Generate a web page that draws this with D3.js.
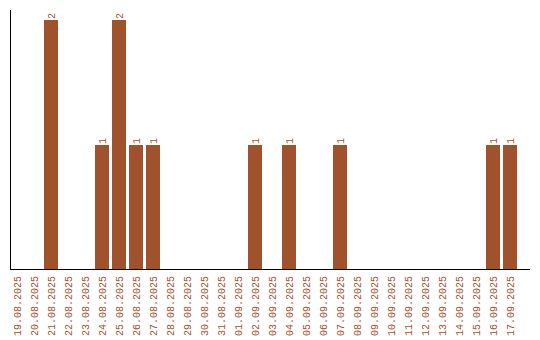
<!DOCTYPE html>
<html>
<head>
<meta charset="utf-8">
<script src="https://cdn.jsdelivr.net/npm/d3@7"></script>
<style>
  html, body { margin: 0; padding: 0; background: #fff; }
  svg { display: block; }
</style>
</head>
<body>
<div id="chart"></div>
<script>
(function () {
  "use strict";

  const dates = [
    "19.08.2025", "20.08.2025", "21.08.2025", "22.08.2025", "23.08.2025",
    "24.08.2025", "25.08.2025", "26.08.2025", "27.08.2025", "28.08.2025",
    "29.08.2025", "30.08.2025", "31.08.2025", "01.09.2025", "02.09.2025",
    "03.09.2025", "04.09.2025", "05.09.2025", "06.09.2025", "07.09.2025",
    "08.09.2025", "09.09.2025", "10.09.2025", "11.09.2025", "12.09.2025",
    "13.09.2025", "14.09.2025", "15.09.2025", "16.09.2025", "17.09.2025"
  ];
  const counts = [
    0, 0, 2, 0, 0,
    1, 2, 1, 1, 0,
    0, 0, 0, 0, 1,
    0, 1, 0, 0, 1,
    0, 0, 0, 0, 0,
    0, 0, 0, 1, 1
  ];

  const w = 540, h = 340;
  const COLOR = "#a0522d";
  const FONT = "'Liberation Mono', 'DejaVu Sans Mono', monospace";

  const data = dates.map((d, i) => ({ date: d, value: counts[i] }));

  const x = d3.scaleBand()
    .domain(dates)
    .range([10, 520])
    .paddingInner(3 / 17)
    .paddingOuter(3 / 34)
    .align(0);

  const y = d3.scaleLinear()
    .domain([0, 2.08])
    .range([270, 10]);

  const svg = d3.select("#chart")
    .append("svg")
    .attr("width", w)
    .attr("height", h);

  // bars
  svg.selectAll("rect.bar")
    .data(data.filter(d => d.value > 0))
    .enter()
    .append("rect")
    .attr("class", "bar")
    .attr("x", d => x(d.date))
    .attr("y", d => y(d.value))
    .attr("width", x.bandwidth())
    .attr("height", d => y(0) - y(d.value))
    .attr("fill", COLOR);

  // value labels above bars
  svg.selectAll("text.val")
    .data(data.filter(d => d.value > 0))
    .enter()
    .append("text")
    .attr("class", "val")
    .attr("transform", d => `translate(${x(d.date) + x.bandwidth() / 2},${y(d.value) - 1}) rotate(-90)`)
    .attr("dy", "0.35em")
    .attr("text-anchor", "start")
    .attr("fill", COLOR)
    .attr("font-family", FONT)
    .attr("font-size", "10px")
    .text(d => d.value);

  // axes lines
  svg.append("line")
    .attr("x1", 10.5).attr("x2", 10.5)
    .attr("y1", y.range()[1]).attr("y2", y(0))
    .attr("stroke", "#000").attr("stroke-width", 1);

  svg.append("line")
    .attr("x1", 10).attr("x2", 530)
    .attr("y1", y(0) - 0.5).attr("y2", y(0) - 0.5)
    .attr("stroke", "#000").attr("stroke-width", 1);

  // date labels
  svg.selectAll("text.date")
    .data(dates)
    .enter()
    .append("text")
    .attr("class", "date")
    .attr("transform", d => `translate(${x(d) + x.bandwidth() / 2},276) rotate(-90)`)
    .attr("dy", "0.35em")
    .attr("text-anchor", "end")
    .attr("fill", COLOR)
    .attr("font-family", FONT)
    .attr("font-size", "10px")
    .text(d => d);
})();
</script>
</body>
</html>
